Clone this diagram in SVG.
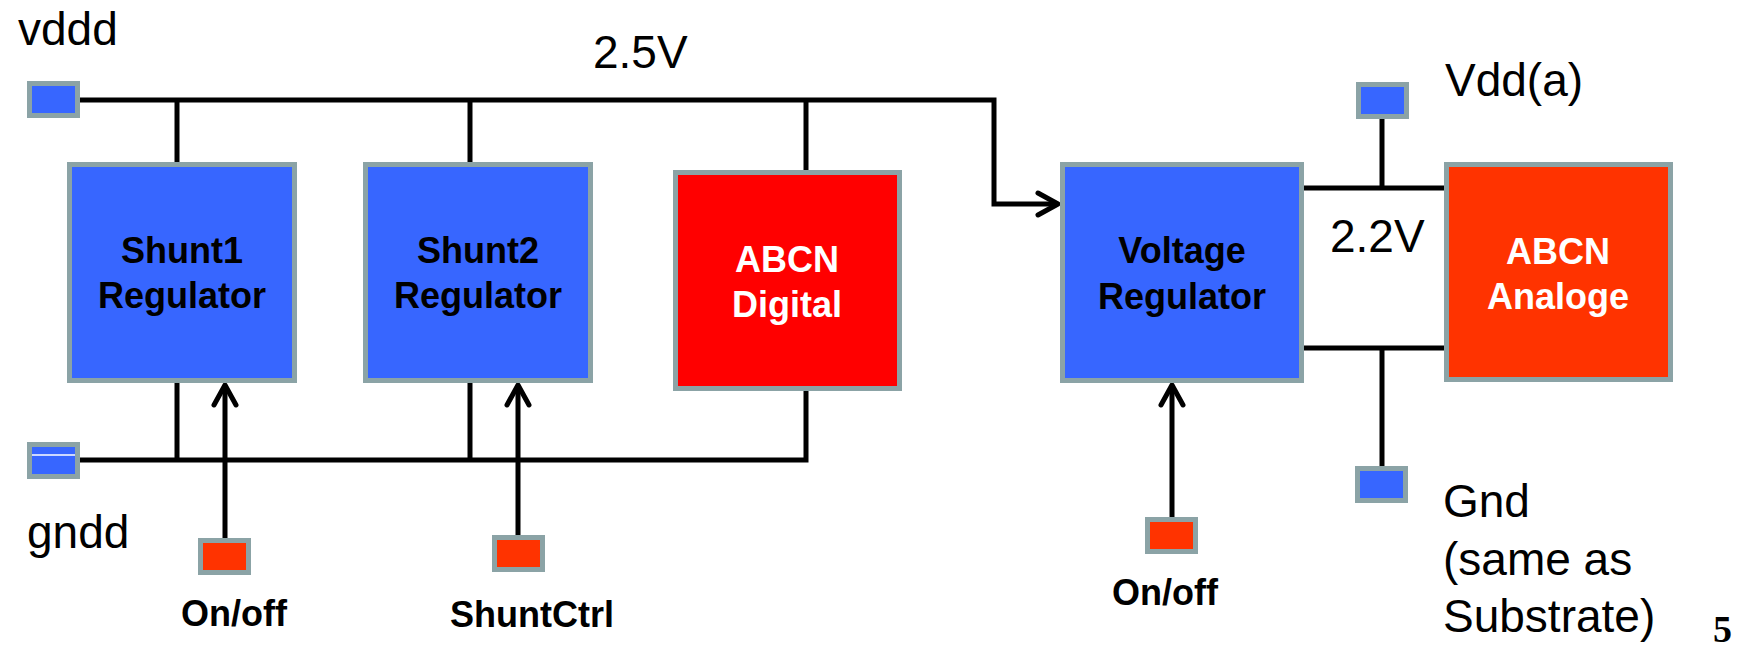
<svg xmlns="http://www.w3.org/2000/svg" width="1740" height="649" viewBox="0 0 1740 649">
  <style>
    .blk { stroke: #8BA3A6; stroke-width: 5; }
    .blue { fill: #3766FF; }
    .red { fill: #FF0000; }
    .orange { fill: #FF3300; }
    .wire { fill: none; stroke: #000; stroke-width: 5; }
    .lbl { font-family: "Liberation Sans", Arial, sans-serif; font-size: 46px; fill: #000; }
    .bold { font-family: "Liberation Sans", Arial, sans-serif; font-size: 36px; font-weight: bold; text-anchor: middle; }
    .dark { fill: #000; }
    .light { fill: #fff; }
  </style>
  <defs>
    <marker id="arrow" markerUnits="userSpaceOnUse" markerWidth="30" markerHeight="30" viewBox="-24 -15 28 30" refX="0" refY="0" orient="auto">
      <path d="M-20,-11 L0,0 L-20,11" fill="none" stroke="#000" stroke-width="5" stroke-linecap="round" stroke-linejoin="round"/>
    </marker>
  </defs>

  <!-- wiring -->
  <g id="connectors">
    <!-- 2.5V rail -->
    <path class="wire" d="M80,100 H994 V204 H1058" marker-end="url(#arrow)"/>
    <path class="wire" d="M177,100 V162"/>
    <path class="wire" d="M470,100 V162"/>
    <path class="wire" d="M806,100 V170"/>
    <!-- ground rail -->
    <path class="wire" d="M80,460 H806 V391"/>
    <path class="wire" d="M177,382 V460"/>
    <path class="wire" d="M470,382 V460"/>
    <!-- control inputs -->
    <path class="wire" d="M225,538 V385" marker-end="url(#arrow)"/>
    <path class="wire" d="M518,535 V385" marker-end="url(#arrow)"/>
    <path class="wire" d="M1172,518 V385" marker-end="url(#arrow)"/>
    <!-- 2.2V analogue supply -->
    <path class="wire" d="M1304,188 H1444"/>
    <path class="wire" d="M1304,348 H1444"/>
    <path class="wire" d="M1382,119 V188"/>
    <path class="wire" d="M1382,348 V466"/>
  </g>

  <!-- pads -->
  <g id="pad-vddd">
    <rect class="blk blue" x="29.5" y="83.5" width="48" height="32"/>
    <text class="lbl" x="18" y="45">vddd</text>
  </g>
  <g id="pad-gndd">
    <rect class="blk blue" x="29.5" y="444.5" width="48" height="32"/>
    <line x1="32" y1="455" x2="75" y2="455" stroke="#fff" stroke-width="1.5"/>
    <text class="lbl" x="27" y="548">gndd</text>
  </g>
  <g id="pad-onoff1">
    <rect class="blk orange" x="200.5" y="540.5" width="48" height="32"/>
    <text class="bold dark" x="234" y="626">On/off</text>
  </g>
  <g id="pad-shuntctrl">
    <rect class="blk orange" x="494.5" y="537.5" width="48" height="32"/>
    <text class="bold dark" x="532" y="627">ShuntCtrl</text>
  </g>
  <g id="pad-onoff2">
    <rect class="blk orange" x="1147.5" y="519.5" width="48" height="32"/>
    <text class="bold dark" x="1165" y="605">On/off</text>
  </g>
  <g id="pad-vdda">
    <rect class="blk blue" x="1358.5" y="84.5" width="48" height="32"/>
    <text class="lbl" x="1445" y="96">Vdd(a)</text>
  </g>
  <g id="pad-gnd">
    <rect class="blk blue" x="1357.5" y="468.5" width="48" height="32"/>
    <text class="lbl" x="1443" y="517">Gnd</text>
    <text class="lbl" x="1443" y="575">(same as</text>
    <text class="lbl" x="1443" y="632">Substrate)</text>
  </g>

  <!-- blocks -->
  <g id="shunt1">
    <rect class="blk blue" x="69.5" y="164.5" width="225" height="216"/>
    <text class="bold dark" x="182" y="263">Shunt1</text>
    <text class="bold dark" x="182" y="308">Regulator</text>
  </g>
  <g id="shunt2">
    <rect class="blk blue" x="365.5" y="164.5" width="225" height="216"/>
    <text class="bold dark" x="478" y="263">Shunt2</text>
    <text class="bold dark" x="478" y="308">Regulator</text>
  </g>
  <g id="abcn-digital">
    <rect class="blk red" x="675.5" y="172.5" width="224" height="216"/>
    <text class="bold light" x="787" y="272">ABCN</text>
    <text class="bold light" x="787" y="317">Digital</text>
  </g>
  <g id="voltage-regulator">
    <rect class="blk blue" x="1062.5" y="164.5" width="239" height="216"/>
    <text class="bold dark" x="1182" y="263">Voltage</text>
    <text class="bold dark" x="1182" y="309">Regulator</text>
  </g>
  <g id="abcn-analoge">
    <rect class="blk orange" x="1446.5" y="164.5" width="224" height="215"/>
    <text class="bold light" x="1558" y="264">ABCN</text>
    <text class="bold light" x="1558" y="309">Analoge</text>
  </g>

  <!-- rail voltages -->
  <text class="lbl" x="593" y="68">2.5V</text>
  <text class="lbl" x="1330" y="252">2.2V</text>

  <!-- page number -->
  <text x="1713" y="642" font-family="'Liberation Serif', 'Times New Roman', serif" font-size="38" font-weight="bold" fill="#000">5</text>
</svg>
